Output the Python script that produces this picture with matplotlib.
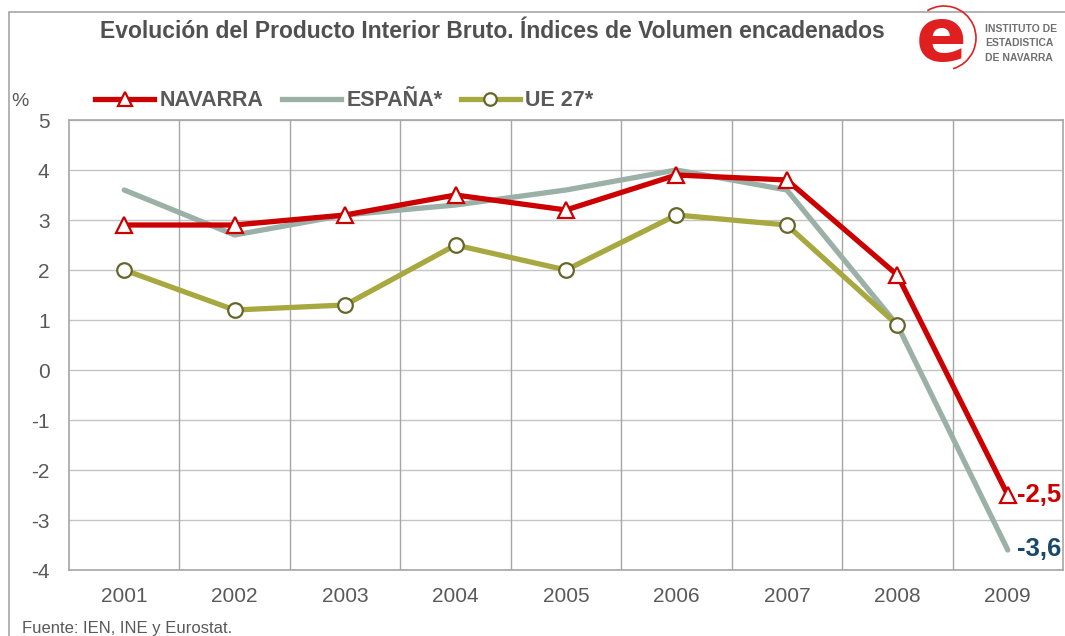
import matplotlib

matplotlib.use("Agg")
import matplotlib.pyplot as plt
from matplotlib.lines import Line2D
from matplotlib.patches import Arc, Rectangle

plt.rcParams["font.family"] = ["Liberation Sans", "DejaVu Sans"]
plt.rcParams["axes.unicode_minus"] = False

YEARS = ["2001", "2002", "2003", "2004", "2005", "2006", "2007", "2008", "2009"]
NAVARRA = [2.9, 2.9, 3.1, 3.5, 3.2, 3.9, 3.8, 1.9, -2.5]
ESPANA = [3.6, 2.7, 3.1, 3.3, 3.6, 4.0, 3.6, 0.9, -3.6]
UE27 = [2.0, 1.2, 1.3, 2.5, 2.0, 3.1, 2.9, 0.9]
YTICKS = [5, 4, 3, 2, 1, 0, -1, -2, -3, -4]

C_NAV = "#cc0000"
C_ESP = "#9bb0a7"
C_UE = "#a8a840"
C_UE_EDGE = "#66662a"
C_TEXT = "#595959"

W, H = 1065, 636
fig = plt.figure(figsize=(W / 100, H / 100), dpi=100)
fig.patch.set_facecolor("white")

# outer chart frame (only left/top visible in the crop)
fig.add_artist(Rectangle((9 / W, -0.1), 1.2, 1 - 12 / H + 0.1, transform=fig.transFigure,
                         fill=False, edgecolor="#a6a6a6", lw=1.2))

ax = fig.add_axes([69 / W, 1 - 570 / H, (1063 - 69) / W, 450 / H])
x = list(range(len(YEARS)))

ax.plot(x, ESPANA, color=C_ESP, lw=3.8, solid_capstyle="round", zorder=3)
ax.plot(x[:len(UE27)], UE27, color=C_UE, lw=3.8, marker="o", ms=10.5,
        mfc="white", mec=C_UE_EDGE, mew=1.6, zorder=4)
ax.plot(x, NAVARRA, color=C_NAV, lw=3.8, marker="^", ms=12,
        mfc="white", mec=C_NAV, mew=1.6, zorder=5)

ax.set_xlim(-0.5, len(YEARS) - 0.5)
ax.set_ylim(-4, 5)
ax.set_yticks(YTICKS)
ax.set_xticks(x)
ax.set_xticklabels(YEARS)
ax.tick_params(axis="both", length=0, labelsize=15, colors=C_TEXT)
ax.tick_params(axis="y", pad=14)
ax.tick_params(axis="x", pad=12)

for yv in YTICKS:
    ax.axhline(yv, color="#c4c4c4", lw=1.0, zorder=1)
for xv in x[:-1]:
    ax.axvline(xv + 0.5, color="#a6a6a6", lw=1.0, zorder=1)
for s in ax.spines.values():
    s.set_color("#a6a6a6")
    s.set_linewidth(1.2)

ax.annotate(f"{NAVARRA[-1]:.1f}".replace(".", ","), (x[-1], NAVARRA[-1]),
            xytext=(7, 0), textcoords="offset points", va="center", ha="left",
            fontsize=18.5, fontweight="bold", color=C_NAV, annotation_clip=False)
ax.annotate(f"{ESPANA[-1]:.1f}".replace(".", ","), (x[-1], ESPANA[-1]),
            xytext=(7, 1), textcoords="offset points", va="center", ha="left",
            fontsize=18.5, fontweight="bold", color="#17496b", annotation_clip=False)

fig.text(20 / W, 1 - 102 / H, "%", fontsize=14, color=C_TEXT, ha="center", va="center")

fig.text(492 / W, 1 - 31 / H,
         "Evolución del Producto Interior Bruto. Índices de Volumen encadenados",
         fontsize=16.5, fontweight="bold", color="#505050", ha="center", va="center")

handles = [
    Line2D([], [], color=C_NAV, lw=3.8, marker="^", ms=10, mfc="white", mec=C_NAV, mew=1.6),
    Line2D([], [], color=C_ESP, lw=3.8),
    Line2D([], [], color=C_UE, lw=3.8, marker="o", ms=9, mfc="white", mec=C_UE_EDGE, mew=1.6),
]
leg = fig.legend(handles, ["NAVARRA", "ESPAÑA*", "UE 27*"], loc="center left",
                 bbox_to_anchor=(95 / W, 1 - 101 / H), ncol=3, frameon=False,
                 handlelength=2.75, handletextpad=0.25, columnspacing=0.85,
                 borderpad=0, borderaxespad=0,
                 prop={"size": 15.5, "weight": "bold"})
for t in leg.get_texts():
    t.set_color(C_TEXT)

# logo
fig.text(941 / W, 1 - 40 / H, "e", fontsize=54, fontweight="bold", color="#e02020",
         ha="center", va="center", family="DejaVu Sans")
fig.add_artist(Arc((944 / W, 1 - 38 / H), 64 / W, 64 / H, theta1=-80, theta2=110,
                   transform=fig.transFigure, color="#e02020", lw=1.2))
for i, line in enumerate(["INSTITUTO DE", "ESTADISTICA", "DE NAVARRA"]):
    fig.text(985 / W, 1 - (29 + 14.5 * i) / H, line, fontsize=7.5, fontweight="bold",
             color="#707070", ha="left", va="center")

fig.text(22 / W, 1 - 628 / H, "Fuente: IEN, INE y Eurostat.", fontsize=12,
         color=C_TEXT, ha="left", va="center")

fig.savefig("out.png", dpi=100)
